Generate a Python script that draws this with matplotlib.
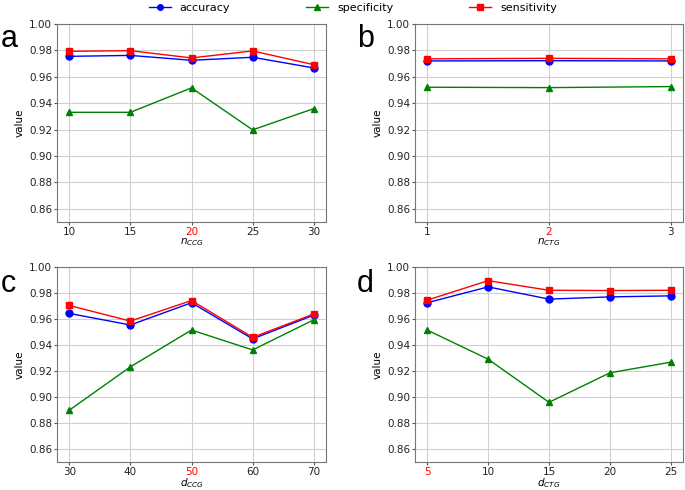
import matplotlib
matplotlib.use("Agg")
import matplotlib.pyplot as plt

# Data
x_a = [10, 15, 20, 25, 30]
acc_a = [0.9755, 0.9762, 0.9725, 0.9748, 0.9667]
spec_a = [0.9331, 0.9331, 0.9516, 0.9198, 0.9359]
sens_a = [0.9793, 0.9798, 0.9743, 0.9796, 0.9692]

x_b = [1, 2, 3]
acc_b = [0.9720, 0.9722, 0.9720]
spec_b = [0.9521, 0.9518, 0.9526]
sens_b = [0.9736, 0.9740, 0.9736]

x_c = [30, 40, 50, 60, 70]
acc_c = [0.9643, 0.9554, 0.9725, 0.9447, 0.9630]
spec_c = [0.8898, 0.9232, 0.9515, 0.9362, 0.9594]
sens_c = [0.9704, 0.9584, 0.9742, 0.9459, 0.9638]

x_d = [5, 10, 15, 20, 25]
acc_d = [0.9725, 0.9847, 0.9753, 0.9770, 0.9778]
spec_d = [0.9515, 0.9291, 0.8959, 0.9186, 0.9268]
sens_d = [0.9745, 0.9895, 0.9821, 0.9819, 0.9821]

panels = [
    ("a", x_a, acc_a, spec_a, sens_a, r"$n_{CCG}$", 20),
    ("b", x_b, acc_b, spec_b, sens_b, r"$n_{CTG}$", 2),
    ("c", x_c, acc_c, spec_c, sens_c, r"$d_{CCG}$", 50),
    ("d", x_d, acc_d, spec_d, sens_d, r"$d_{CTG}$", 5),
]
yticks = [0.86, 0.88, 0.90, 0.92, 0.94, 0.96, 0.98, 1.00]

W, H = 685, 490
fig = plt.figure(figsize=(W / 100, H / 100), dpi=100)

boxes = [
    (57, 24, 326, 222),
    (415, 24, 683, 222),
    (57, 267, 326, 462),
    (415, 267, 683, 462),
]
letter_pos = [(1, 47), (357, 47), (1, 292), (357, 292)]

handles = None
for (lab, xs, acc, spec, sens, xl, hl), (l, t, r, b), (lx, ly) in zip(panels, boxes, letter_pos):
    ax = fig.add_axes([l / W, 1 - b / H, (r - l) / W, (b - t) / H])
    h1, = ax.plot(xs, acc, color="blue", marker="o", markersize=5, lw=1, label="accuracy")
    h2, = ax.plot(xs, spec, color="green", marker="^", markersize=5, lw=1, label="specificity")
    h3, = ax.plot(xs, sens, color="red", marker="s", markersize=5, lw=1, label="sensitivity")
    handles = [h1, h2, h3]
    ax.set_ylim(0.85, 1.0)
    ax.set_yticks(yticks)
    ax.set_yticklabels([f"{v:.2f}" for v in yticks])
    ax.set_xticks(xs)
    ax.set_xticklabels([str(v) for v in xs])
    ax.grid(True, color="#d0d0d0", lw=0.8)
    ax.set_axisbelow(True)
    ax.tick_params(labelsize=7.5, length=2, pad=1.5, color="#555555", labelcolor="#222222")
    for tl, v in zip(ax.get_xticklabels(), xs):
        if v == hl:
            tl.set_color("red")
    for s in ax.spines.values():
        s.set_color("#777777")
    ax.set_ylabel("value", fontsize=7.5, labelpad=3)
    ax.set_xlabel(xl, fontsize=7.5, labelpad=-0.5)
    fig.text(lx / W, 1 - ly / H, lab, fontsize=22, family="Liberation Sans",
             ha="left", va="baseline")

fig.legend(handles, ["accuracy", "specificity", "sensitivity"], loc="upper center",
           bbox_to_anchor=(0.515, 1.015), ncol=3, frameon=False, fontsize=8,
           columnspacing=6.8, handlelength=2.0, markerscale=0.8)

fig.savefig("out.png", dpi=100)
